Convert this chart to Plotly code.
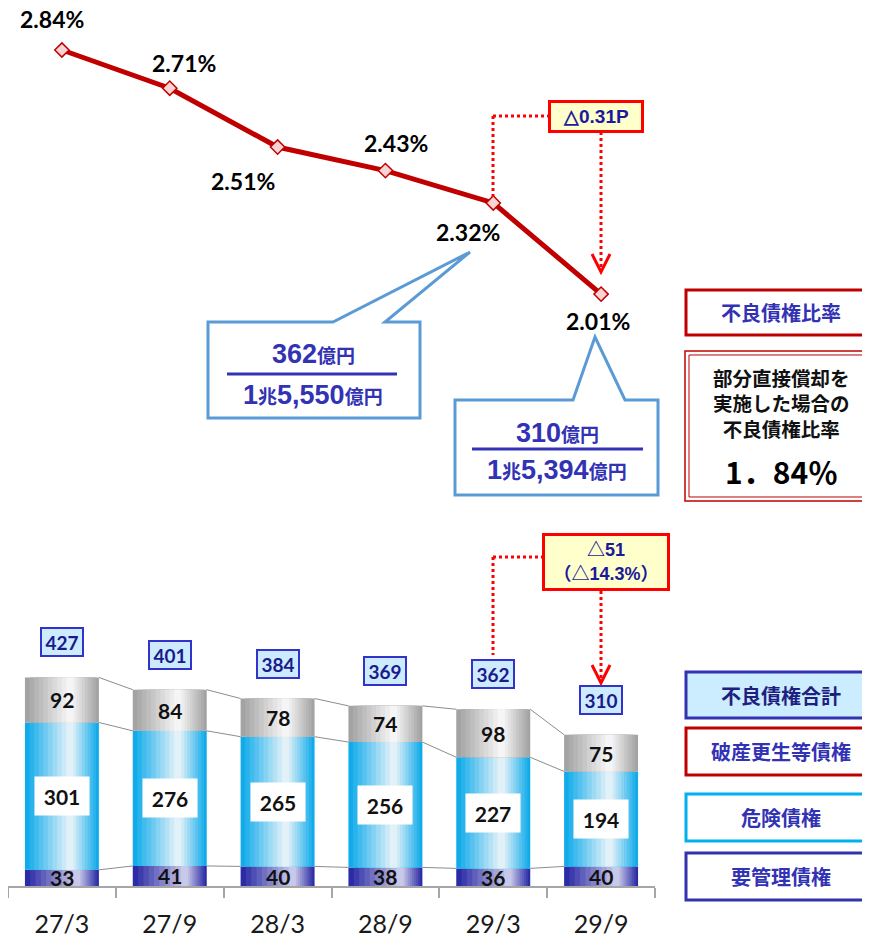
import plotly.graph_objects as go

# ---------------- data ----------------
categories = ["27/3", "27/9", "28/3", "28/9", "29/3", "29/9"]
ratio = [2.84, 2.71, 2.51, 2.43, 2.32, 2.01]
youkanri = [33, 41, 40, 38, 36, 40]        # 要管理債権
kiken = [301, 276, 265, 256, 227, 194]     # 危険債権
hasan = [92, 84, 78, 74, 98, 75]           # 破産更生等債権
totals = [427, 401, 384, 369, 362, 310]    # 不良債権合計

# ---------------- helpers ----------------
OFF = 8                      # page body margin
FW, FH = 870 - OFF, 938 - OFF
def px(x): return (x - OFF) / FW
def py(y): return 1 - (y - OFF) / FH

def hex2rgb(h):
    h = h.lstrip("#")
    return tuple(int(h[i:i+2], 16) for i in (0, 2, 4))
def lerp(c1, c2, t):
    a, b = hex2rgb(c1), hex2rgb(c2)
    return "rgb(%d,%d,%d)" % tuple(round(a[i] + (b[i] - a[i]) * t) for i in range(3))

idx = list(range(len(categories)))
W = 0.686
N = 10

base_mid = youkanri
base_top = [a + b for a, b in zip(youkanri, kiken)]
stack_top = [a + b for a, b in zip(base_top, hasan)]
zeros = [0] * len(idx)

fig = go.Figure()

segments = [
    (youkanri, zeros, "#2B2BA6", "#C8C8E8", 0.72),
    (kiken, base_mid, "#12ABEA", "#E2F1F8", 0.62),
    (hasan, base_top, "#A3A3A3", "#F5F5F5", 0.62),
]
for vals, bases, edge, center, c in segments:
    for k in range(N):
        t = k / N
        L = t * c * W
        R = W - t * (1 - c) * W
        fig.add_trace(go.Bar(
            x=idx, y=vals, base=bases, width=R - L, offset=-W / 2 + L,
            marker=dict(color=lerp(edge, center, k / (N - 1)), line=dict(width=0)),
            xaxis="x", yaxis="y", hoverinfo="skip", showlegend=False))

# connector lines between bars
for level in (youkanri, base_top, stack_top):
    for i in range(len(idx) - 1):
        fig.add_trace(go.Scatter(
            x=[idx[i] + W / 2, idx[i + 1] - W / 2], y=[level[i], level[i + 1]],
            mode="lines", line=dict(color="#8C8C8C", width=1),
            xaxis="x", yaxis="y", hoverinfo="skip", showlegend=False))

# ratio line
fig.add_trace(go.Scatter(
    x=idx, y=ratio, mode="lines+markers",
    line=dict(color="#C00000", width=5),
    marker=dict(symbol="diamond", size=11, color="#FAD4D4",
                line=dict(color="#C00000", width=1.5)),
    xaxis="x2", yaxis="y2", cliponaxis=False, hoverinfo="skip", showlegend=False))

ann = []
NUMF = "Lato, Noto Sans CJK JP, sans-serif"
CJK = "Noto Sans CJK JP, sans-serif"

def pann(x, y, text, **kw):
    d = dict(x=px(x), y=py(y), xref="paper", yref="paper", text=text, showarrow=False,
             xanchor="center", yanchor="middle")
    d.update(kw)
    ann.append(d)

# ratio labels
ratio_shift = [(-10, 31), (14, 25), (-35, -34), (11, 28), (-25, -29), (-3, -27)]
for i, v in enumerate(ratio):
    dx, dy = ratio_shift[i]
    ann.append(dict(x=idx[i], y=v, xref="x2", yref="y2", xshift=dx, yshift=dy,
                    xanchor="center", yanchor="middle",
                    text="<b>%.2f%%</b>" % v, showarrow=False,
                    font=dict(family=NUMF, size=23, color="#000000")))

# bar segment labels
for i in idx:
    ann.append(dict(x=i, y=youkanri[i] / 2, xref="x", yref="y", text="<b>%d</b>" % youkanri[i],
                    xanchor="center", yanchor="middle",
                    showarrow=False, font=dict(family=NUMF, size=21, color="#111111")))
    ann.append(dict(x=i, y=base_mid[i] + kiken[i] / 2, xref="x", yref="y",
                    xanchor="center", yanchor="middle",
                    text="<b>%d</b>" % kiken[i], showarrow=False, bgcolor="#FFFFFF",
                    width=52, height=36, font=dict(family=NUMF, size=21, color="#111111")))
    ann.append(dict(x=i, y=base_top[i] + hasan[i] / 2, xref="x", yref="y",
                    xanchor="center", yanchor="middle",
                    text="<b>%d</b>" % hasan[i], showarrow=False,
                    font=dict(family=NUMF, size=21, color="#111111")))
    ann.append(dict(x=i, y=stack_top[i], xref="x", yref="y", xanchor="center",
                    yanchor="bottom", yshift=20,
                    text="<b>%d</b>" % totals[i], showarrow=False, bgcolor="#CCEBFF",
                    bordercolor="#3333CC", borderwidth=2, width=38, height=24,
                    font=dict(family=NUMF, size=19, color="#1A1A8C")))

shapes = []
RED = "#FF0000"

def dline(x0, y0, x1, y1):
    shapes.append(dict(type="line", xref="paper", yref="paper", x0=px(x0), y0=py(y0),
                       x1=px(x1), y1=py(y1), line=dict(color=RED, width=3, dash="dot")))

def vee(x, ytip):
    shapes.append(dict(type="path", xref="paper", yref="paper",
                       path="M %f,%f L %f,%f L %f,%f" % (px(x - 9), py(ytip - 18), px(x), py(ytip),
                                                         px(x + 9), py(ytip - 18)),
                       line=dict(color=RED, width=3)))

# top change annotation
dline(493, 116, 549, 116)
dline(493, 116, 493, 198)
dline(601, 132, 601, 271)
vee(601, 272)
pann(596, 117, "<b>△0.31P</b>", bgcolor="#FFFFCC", bordercolor=RED, borderwidth=3,
     width=88, height=25, font=dict(family="Liberation Sans, sans-serif", size=19, color="#1A1A9A"))

# bottom change annotation
dline(493, 557, 542, 557)
dline(493, 557, 493, 655)
dline(601, 591, 601, 681)
vee(601, 683)
pann(606, 562, "<b>△51<br>（△14.3%）</b>", bgcolor="#FFFFCC", bordercolor=RED, borderwidth=3,
     width=120, height=50,
     font=dict(family="Liberation Sans, Noto Sans CJK JP, sans-serif", size=18, color="#1A1A9A"))

# callouts
CALL = "#5B9BD5"
def poly(pts):
    p = "M " + " L ".join("%f,%f" % (px(x), py(y)) for x, y in pts) + " Z"
    shapes.append(dict(type="path", xref="paper", yref="paper", path=p,
                       line=dict(color=CALL, width=3), fillcolor="#FFFFFF", layer="above"))

poly([(208, 322), (333, 322), (470, 252), (385, 322), (420, 322), (420, 418), (208, 418)])
poly([(455, 400), (573, 400), (595, 337), (625, 400), (658, 400), (658, 495), (455, 495)])
for x0, x1, y in ((227, 397, 374), (472, 643, 449)):
    shapes.append(dict(type="line", xref="paper", yref="paper", x0=px(x0), x1=px(x1),
                       y0=py(y), y1=py(y), line=dict(color="#3333B8", width=3), layer="above"))

BLUE = "#3232B4"
SM = "<span style='font-size:19px'>%s</span>"
callout_texts = [
    (313, 354, "<b>362" + SM % "億円" + "</b>"),
    (313, 395, "<b>1" + SM % "兆" + "5,550" + SM % "億円" + "</b>"),
    (557, 433, "<b>310" + SM % "億円" + "</b>"),
    (557, 470, "<b>1" + SM % "兆" + "5,394" + SM % "億円" + "</b>"),
]
for x, y, t in callout_texts:
    pann(x, y, t, font=dict(family="Liberation Sans, Noto Sans CJK JP, sans-serif", size=27, color=BLUE))

# right-side legend boxes (open on the right: cut by the page edge)
def obox(x0, y0, y1, color, width, fill="rgba(0,0,0,0)", x1=872):
    p = "M %f,%f L %f,%f L %f,%f L %f,%f" % (px(x1), py(y0), px(x0), py(y0),
                                             px(x0), py(y1), px(x1), py(y1))
    shapes.append(dict(type="path", xref="paper", yref="paper", path=p,
                       line=dict(color=color, width=width), fillcolor=fill))

obox(686, 290, 335, "#C00000", 3)
obox(685, 351, 501, "#C00000", 1.5)
obox(689, 355, 497, "#C00000", 1)
obox(686, 672, 718, "#3333B0", 3, "#CCECFF")
obox(686, 728, 775, "#C00000", 3)
obox(686, 794, 841, "#00B0F0", 3)
obox(686, 853, 900, "#3333B0", 3)

legend_texts = [
    (312, "不良債権比率", BLUE),
    (695, "不良債権合計", "#1F1F80"),
    (751, "破産更生等債権", BLUE),
    (817, "危険債権", BLUE),
    (876, "要管理債権", BLUE),
]
for y, t, col in legend_texts:
    pann(781, y, "<b>%s</b>" % t, font=dict(family=CJK, size=20, color=col))

pann(781, 403, "<b>部分直接償却を<br>実施した場合の<br>不良債権比率</b>",
     font=dict(family=CJK, size=19.5, color="#111111"))
pann(781, 471, "<b>1．84％</b>", font=dict(family=CJK, size=30, color="#000000"))

XDOM = [px(8), px(655)]
fig.update_layout(
    width=FW, height=FH, margin=dict(l=0, r=0, t=0, b=0, autoexpand=False),
    paper_bgcolor="#FFFFFF", plot_bgcolor="#FFFFFF",
    barmode="overlay", showlegend=False,
    xaxis=dict(domain=XDOM, range=[-0.5, 5.5], anchor="y", tickmode="array",
               tickvals=idx, ticktext=categories, ticks="", showgrid=False, zeroline=False,
               showline=True, linecolor="#A6A6A6", linewidth=1.5, automargin=False,
               minor=dict(tickmode="array", tickvals=[i - 0.5 for i in range(len(idx) + 1)],
                          ticks="outside", ticklen=10, tickcolor="#A6A6A6", tickwidth=1.5,
                          showgrid=False),
               tickfont=dict(family="Lato, sans-serif", size=25, color="#1A1A1A"),
               ticklabelstandoff=15),
    yaxis=dict(domain=[py(886), py(666)], range=[0, 449.4], visible=False),
    xaxis2=dict(domain=XDOM, range=[-0.5, 5.5], anchor="y2", visible=False),
    yaxis2=dict(domain=[py(300), py(40)], range=[1.990, 2.874], anchor="x2", visible=False),
    annotations=ann, shapes=shapes,
)

fig.write_html("out.html")
